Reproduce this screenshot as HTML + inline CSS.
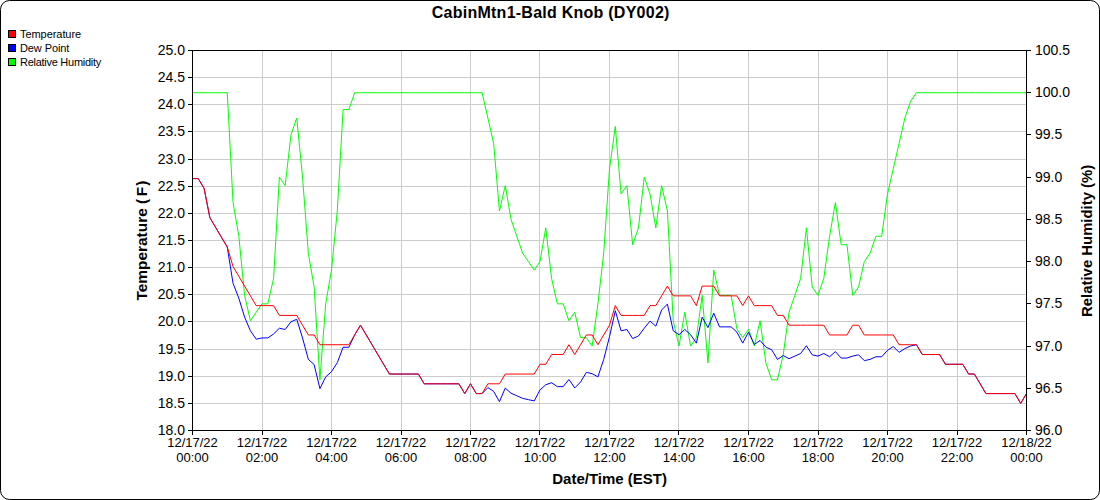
<!DOCTYPE html>
<html><head><meta charset="utf-8"><title>CabinMtn1-Bald Knob (DY002)</title>
<style>
html,body{margin:0;padding:0;background:#fff;}
body{width:1100px;height:500px;overflow:hidden;}
svg{display:block;font-family:"Liberation Sans",sans-serif;}
.tk{font-size:14px;fill:#000;}
.xt{font-size:13px;fill:#000;text-anchor:middle;}
.lg{font-size:11px;fill:#000;}
.ax{font-size:15px;font-weight:bold;fill:#000;text-anchor:middle;}
</style></head><body>
<svg width="1100" height="500" viewBox="0 0 1100 500">
<rect x="0.5" y="0.5" width="1099" height="499" rx="9" ry="9" fill="#fff" stroke="#000" stroke-width="1"/>
<text x="550.7" y="18" text-anchor="middle" style="font-size:16px;font-weight:bold;letter-spacing:0.25px">CabinMtn1-Bald Knob (DY002)</text>

<rect x="8.5" y="30.5" width="7" height="7" fill="#ff0000" stroke="#000" stroke-width="1" shape-rendering="crispEdges"/>
<text class="lg" x="20" y="38" style="letter-spacing:-0.06px">Temperature</text>
<rect x="8.5" y="44.5" width="7" height="7" fill="#0000ff" stroke="#000" stroke-width="1" shape-rendering="crispEdges"/>
<text class="lg" x="20" y="52" style="letter-spacing:-0.1px">Dew Point</text>
<rect x="8.5" y="58.5" width="7" height="7" fill="#00ff00" stroke="#000" stroke-width="1" shape-rendering="crispEdges"/>
<text class="lg" x="20" y="66" style="letter-spacing:-0.27px">Relative Humidity</text>
<path d="M262.5 50V430M331.5 50V430M401.5 50V430M470.5 50V430M539.5 50V430M609.5 50V430M678.5 50V430M748.5 50V430M818.5 50V430M887.5 50V430M957.5 50V430M192 77.5H1026M192 104.5H1026M192 131.5H1026M192 159.5H1026M192 186.5H1026M192 213.5H1026M192 240.5H1026M192 267.5H1026M192 294.5H1026M192 321.5H1026M192 349.5H1026M192 376.5H1026M192 403.5H1026" stroke="#cccccc" stroke-width="1" fill="none" shape-rendering="crispEdges"/>
<polyline points="192.50,92.72 198.29,92.72 204.08,92.72 209.88,92.72 215.67,92.72 221.46,92.72 227.25,92.72 233.04,202.50 238.83,236.28 244.62,295.39 250.42,320.72 256.21,312.28 262.00,303.83 267.79,303.83 273.58,278.50 279.38,177.17 285.17,185.61 290.96,134.94 296.75,118.06 302.54,177.17 308.33,253.17 314.12,286.94 319.92,379.83 325.71,303.83 331.50,270.06 337.29,210.94 343.08,109.61 348.88,109.61 354.67,92.72 360.46,92.72 366.25,92.72 372.04,92.72 377.83,92.72 383.62,92.72 389.42,92.72 395.21,92.72 401.00,92.72 406.79,92.72 412.58,92.72 418.38,92.72 424.17,92.72 429.96,92.72 435.75,92.72 441.54,92.72 447.33,92.72 453.12,92.72 458.92,92.72 464.71,92.72 470.50,92.72 476.29,92.72 482.08,92.72 487.88,118.06 493.67,143.39 499.46,210.94 505.25,185.61 511.04,219.39 516.83,236.28 522.62,253.17 528.42,261.61 534.21,270.06 540.00,261.61 545.79,227.83 551.58,278.50 557.38,303.83 563.17,303.83 568.96,320.72 574.75,312.28 580.54,337.61 586.33,337.61 592.12,346.06 597.92,303.83 603.71,253.17 609.50,168.72 615.29,126.50 621.08,194.06 626.88,185.61 632.67,244.72 638.46,227.83 644.25,177.17 650.04,194.06 655.83,227.83 661.62,185.61 667.42,210.94 673.21,320.72 679.00,346.06 684.79,312.28 690.58,346.06 696.38,337.61 702.17,295.39 707.96,362.94 713.75,270.06 719.54,295.39 725.33,295.39 731.12,295.39 736.92,329.17 742.71,337.61 748.50,329.17 754.29,346.06 760.08,320.72 765.88,362.94 771.67,379.83 777.46,379.83 783.25,354.50 789.04,312.28 794.83,295.39 800.62,278.50 806.42,227.83 812.21,286.94 818.00,295.39 823.79,278.50 829.58,236.28 835.38,202.50 841.17,244.72 846.96,244.72 852.75,295.39 858.54,286.94 864.33,261.61 870.12,253.17 875.92,236.28 881.71,236.28 887.50,194.06 893.29,168.72 899.08,143.39 904.88,118.06 910.67,101.17 916.46,92.72 922.25,92.72 928.04,92.72 933.83,92.72 939.62,92.72 945.42,92.72 951.21,92.72 957.00,92.72 962.79,92.72 968.58,92.72 974.38,92.72 980.17,92.72 985.96,92.72 991.75,92.72 997.54,92.72 1003.33,92.72 1009.12,92.72 1014.92,92.72 1020.71,92.72 1026.50,92.72" fill="none" stroke="#00ff00" stroke-width="1" stroke-linejoin="round"/>
<polyline points="192.50,178.61 198.29,178.61 204.08,188.39 209.88,217.70 215.67,227.47 221.46,237.24 227.25,247.01 233.04,283.30 238.83,298.25 244.62,317.12 250.42,330.78 256.21,339.22 262.00,337.91 267.79,337.91 273.58,334.00 279.38,328.22 285.17,329.51 290.96,321.80 296.75,319.25 302.54,337.98 308.33,359.35 314.12,364.54 319.92,388.65 325.71,376.89 331.50,371.69 337.29,362.65 343.08,347.27 348.88,347.27 354.67,334.96 360.46,325.19 366.25,334.96 372.04,344.73 377.83,354.50 383.62,364.27 389.42,374.04 395.21,374.04 401.00,374.04 406.79,374.04 412.58,374.04 418.38,374.04 424.17,383.81 429.96,383.81 435.75,383.81 441.54,383.81 447.33,383.81 453.12,383.81 458.92,383.81 464.71,393.59 470.50,383.81 476.29,393.59 482.08,393.59 487.88,387.62 493.67,391.44 499.46,401.67 505.25,388.07 511.04,393.20 516.83,395.78 522.62,398.36 528.42,399.65 534.21,400.94 540.00,389.90 545.79,384.74 551.58,382.74 557.38,386.63 563.17,386.63 568.96,379.49 574.75,387.93 580.54,382.10 586.33,372.36 592.12,373.67 597.92,376.89 603.71,359.35 609.50,336.70 615.29,310.76 621.08,330.80 626.88,329.51 632.67,338.55 638.46,335.96 644.25,328.22 650.04,321.04 655.83,326.21 661.62,309.99 667.42,304.11 673.21,330.78 679.00,334.71 684.79,329.47 690.58,334.71 696.38,343.14 702.17,317.12 707.96,327.61 713.75,313.20 719.54,326.86 725.33,326.86 731.12,326.86 736.92,332.09 742.71,343.14 748.50,332.09 754.29,344.45 760.08,340.52 765.88,347.08 771.67,349.71 777.46,359.44 783.25,355.50 789.04,358.70 794.83,356.10 800.62,353.50 806.42,345.72 812.21,354.80 818.00,356.10 823.79,353.50 829.58,356.77 835.38,351.60 841.17,358.06 846.96,358.06 852.75,356.10 858.54,354.80 864.33,360.65 870.12,359.35 875.92,356.77 881.71,356.77 887.50,350.32 893.29,346.46 899.08,352.38 904.88,348.55 910.67,346.00 916.46,344.73 922.25,354.50 928.04,354.50 933.83,354.50 939.62,354.50 945.42,364.27 951.21,364.27 957.00,364.27 962.79,364.27 968.58,374.04 974.38,374.04 980.17,383.81 985.96,393.59 991.75,393.59 997.54,393.59 1003.33,393.59 1009.12,393.59 1014.92,393.59 1020.71,403.36 1026.50,393.59" fill="none" stroke="#0000ff" stroke-width="1" stroke-linejoin="round"/>
<polyline points="192.50,178.61 198.29,178.61 204.08,188.39 209.88,217.70 215.67,227.47 221.46,237.24 227.25,247.01 233.04,266.56 238.83,276.33 244.62,286.10 250.42,295.87 256.21,305.64 262.00,305.64 267.79,305.64 273.58,305.64 279.38,315.41 285.17,315.41 290.96,315.41 296.75,315.41 302.54,325.19 308.33,334.96 314.12,334.96 319.92,344.73 325.71,344.73 331.50,344.73 337.29,344.73 343.08,344.73 348.88,344.73 354.67,334.96 360.46,325.19 366.25,334.96 372.04,344.73 377.83,354.50 383.62,364.27 389.42,374.04 395.21,374.04 401.00,374.04 406.79,374.04 412.58,374.04 418.38,374.04 424.17,383.81 429.96,383.81 435.75,383.81 441.54,383.81 447.33,383.81 453.12,383.81 458.92,383.81 464.71,393.59 470.50,383.81 476.29,393.59 482.08,393.59 487.88,383.81 493.67,383.81 499.46,383.81 505.25,374.04 511.04,374.04 516.83,374.04 522.62,374.04 528.42,374.04 534.21,374.04 540.00,364.27 545.79,364.27 551.58,354.50 557.38,354.50 563.17,354.50 568.96,344.73 574.75,354.50 580.54,344.73 586.33,334.96 592.12,334.96 597.92,344.73 603.71,334.96 609.50,325.19 615.29,305.64 621.08,315.41 626.88,315.41 632.67,315.41 638.46,315.41 644.25,315.41 650.04,305.64 655.83,305.64 661.62,295.87 667.42,286.10 673.21,295.87 679.00,295.87 684.79,295.87 690.58,295.87 696.38,305.64 702.17,286.10 707.96,286.10 713.75,286.10 719.54,295.87 725.33,295.87 731.12,295.87 736.92,295.87 742.71,305.64 748.50,295.87 754.29,305.64 760.08,305.64 765.88,305.64 771.67,305.64 777.46,315.41 783.25,315.41 789.04,325.19 794.83,325.19 800.62,325.19 806.42,325.19 812.21,325.19 818.00,325.19 823.79,325.19 829.58,334.96 835.38,334.96 841.17,334.96 846.96,334.96 852.75,325.19 858.54,325.19 864.33,334.96 870.12,334.96 875.92,334.96 881.71,334.96 887.50,334.96 893.29,334.96 899.08,344.73 904.88,344.73 910.67,344.73 916.46,344.73 922.25,354.50 928.04,354.50 933.83,354.50 939.62,354.50 945.42,364.27 951.21,364.27 957.00,364.27 962.79,364.27 968.58,374.04 974.38,374.04 980.17,383.81 985.96,393.59 991.75,393.59 997.54,393.59 1003.33,393.59 1009.12,393.59 1014.92,393.59 1020.71,403.36 1026.50,393.59" fill="none" stroke="#ff0000" stroke-width="1" stroke-linejoin="round"/>
<path d="M192.5 50V431M1026.5 50V431M192 50.5H1027M192 430.5H1027M192.5 430V435M262.5 430V435M331.5 430V435M401.5 430V435M470.5 430V435M539.5 430V435M609.5 430V435M678.5 430V435M748.5 430V435M818.5 430V435M887.5 430V435M957.5 430V435M1026.5 430V435M188 50.5H192M188 77.5H192M188 104.5H192M188 131.5H192M188 159.5H192M188 186.5H192M188 213.5H192M188 240.5H192M188 267.5H192M188 294.5H192M188 321.5H192M188 349.5H192M188 376.5H192M188 403.5H192M188 430.5H192M1026 50.5H1031M1026 92.5H1031M1026 134.5H1031M1026 177.5H1031M1026 219.5H1031M1026 261.5H1031M1026 303.5H1031M1026 346.5H1031M1026 388.5H1031M1026 430.5H1031" stroke="#000" stroke-width="1" fill="none" shape-rendering="crispEdges"/>
<text class="tk" x="185" y="55" text-anchor="end">25.0</text>
<text class="tk" x="185" y="82" text-anchor="end">24.5</text>
<text class="tk" x="185" y="109" text-anchor="end">24.0</text>
<text class="tk" x="185" y="136" text-anchor="end">23.5</text>
<text class="tk" x="185" y="164" text-anchor="end">23.0</text>
<text class="tk" x="185" y="191" text-anchor="end">22.5</text>
<text class="tk" x="185" y="218" text-anchor="end">22.0</text>
<text class="tk" x="185" y="245" text-anchor="end">21.5</text>
<text class="tk" x="185" y="272" text-anchor="end">21.0</text>
<text class="tk" x="185" y="299" text-anchor="end">20.5</text>
<text class="tk" x="185" y="326" text-anchor="end">20.0</text>
<text class="tk" x="185" y="354" text-anchor="end">19.5</text>
<text class="tk" x="185" y="381" text-anchor="end">19.0</text>
<text class="tk" x="185" y="408" text-anchor="end">18.5</text>
<text class="tk" x="185" y="435" text-anchor="end">18.0</text>
<text class="tk" x="1035" y="55">100.5</text>
<text class="tk" x="1035" y="97">100.0</text>
<text class="tk" x="1035" y="139">99.5</text>
<text class="tk" x="1035" y="182">99.0</text>
<text class="tk" x="1035" y="224">98.5</text>
<text class="tk" x="1035" y="266">98.0</text>
<text class="tk" x="1035" y="308">97.5</text>
<text class="tk" x="1035" y="351">97.0</text>
<text class="tk" x="1035" y="393">96.5</text>
<text class="tk" x="1035" y="435">96.0</text>
<text class="xt" x="192.5" y="447">12/17/22</text><text class="xt" x="192.5" y="462">00:00</text>
<text class="xt" x="262.0" y="447">12/17/22</text><text class="xt" x="262.0" y="462">02:00</text>
<text class="xt" x="331.5" y="447">12/17/22</text><text class="xt" x="331.5" y="462">04:00</text>
<text class="xt" x="401.0" y="447">12/17/22</text><text class="xt" x="401.0" y="462">06:00</text>
<text class="xt" x="470.5" y="447">12/17/22</text><text class="xt" x="470.5" y="462">08:00</text>
<text class="xt" x="540.0" y="447">12/17/22</text><text class="xt" x="540.0" y="462">10:00</text>
<text class="xt" x="609.5" y="447">12/17/22</text><text class="xt" x="609.5" y="462">12:00</text>
<text class="xt" x="679.0" y="447">12/17/22</text><text class="xt" x="679.0" y="462">14:00</text>
<text class="xt" x="748.5" y="447">12/17/22</text><text class="xt" x="748.5" y="462">16:00</text>
<text class="xt" x="818.0" y="447">12/17/22</text><text class="xt" x="818.0" y="462">18:00</text>
<text class="xt" x="887.5" y="447">12/17/22</text><text class="xt" x="887.5" y="462">20:00</text>
<text class="xt" x="957.0" y="447">12/17/22</text><text class="xt" x="957.0" y="462">22:00</text>
<text class="xt" x="1026.5" y="447">12/18/22</text><text class="xt" x="1026.5" y="462">00:00</text>
<text class="ax" x="609.6" y="484">Date/Time (EST)</text>
<text class="ax" transform="translate(146.8,300.6) rotate(-90) scale(1.03,1)" style="text-anchor:start">Temperature (<tspan dx="-1.65"> </tspan>F<tspan dx="0.9">)</tspan></text>
<text class="ax" transform="translate(1091.5,316.9) rotate(-90) scale(0.992,1)" style="text-anchor:start">Relative Humidity (%)</text>
</svg></body></html>
